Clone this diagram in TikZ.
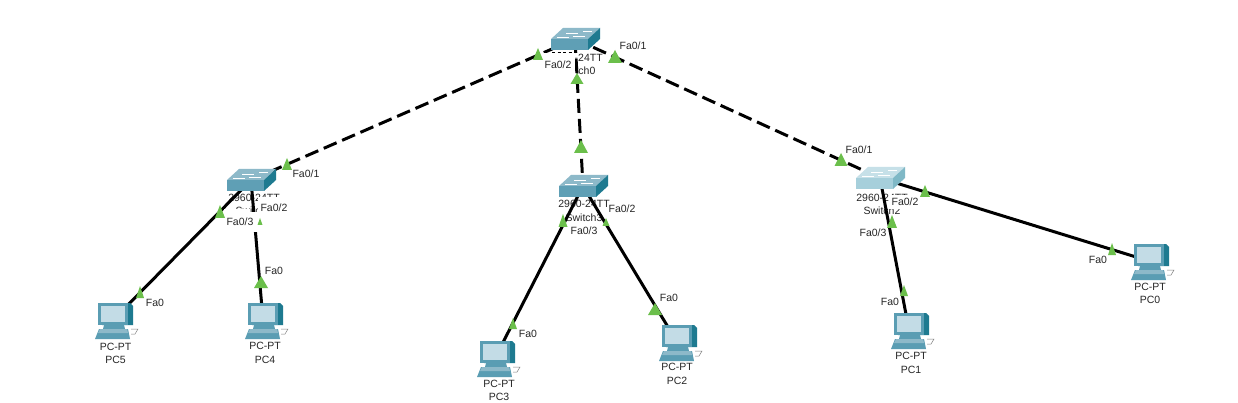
\documentclass[tikz,border=0pt]{standalone}
\usepackage{fontspec}
\setmainfont{Liberation Sans}
\definecolor{swtop}{HTML}{8DB9C9}
\definecolor{swfront}{HTML}{5F9FB5}
\definecolor{swside}{HTML}{1E7A90}
\definecolor{ltop}{HTML}{C6E0E8}
\definecolor{lfront}{HTML}{A6CFDB}
\definecolor{lside}{HTML}{7FB8C6}
\definecolor{pcbody}{HTML}{5A9DB3}
\definecolor{pcscreen}{HTML}{C3DCE6}
\definecolor{pcdark}{HTML}{1E7A90}
\definecolor{linkgreen}{HTML}{6BBF4B}
\tikzset{
  x=1pt,y=-1pt,
  link/.style={draw=black,line width=3pt},
  trunk/.style={link,dash pattern=on 14pt off 6pt},
  devlabel/.style={font=\fontsize{10.5}{13.5}\selectfont,align=center,inner sep=0pt,text=black!85},
  portlabel/.style={font=\fontsize{10.5}{12}\selectfont,inner sep=0pt,text=black!85},
  mask/.style={fill=white,draw=none},
  anchorpt/.style={inner sep=0pt,minimum size=0pt},
}
% triangle: centre x, bottom y, half width, height
\newcommand{\linktri}[4]{\fill[linkgreen] (#1-#3,#2) -- (#1,#2-#4) -- (#1+#3,#2) -- cycle;}
\newcommand{\swicon}[4]{%
  \begin{scope}[shift={(#1)}]
    \fill[#2] (-24,0) -- (-12,-11) -- (25,-11) -- (13,0) -- cycle;
    \fill[#3] (-24,0) -- (13,0) -- (13,11) -- (-24,11) -- cycle;
    \fill[#4] (13,0) -- (25,-11) -- (25,0) -- (13,11) -- cycle;
    \draw[white,line width=.7pt] (-9,-6) -- (3,-6) (8,-8) -- (17,-8) (-18,-2) -- (-6,-2) (-2,-3) -- (10,-3);
  \end{scope}}
\newcommand{\pcicon}[1]{%
  \begin{scope}[shift={(#1)}]
    \fill[pcdark] (-11,-17) -- (17,-17) -- (20,-14) -- (20,5) -- (12,5) -- (-11,5) -- cycle;
    \fill[pcbody] (-15,-17) -- (15,-17) -- (15,5) -- (-15,5) -- cycle;
    \fill[pcscreen] (-12,-14) -- (12,-14) -- (12,2) -- (-12,2) -- cycle;
    \fill[pcbody] (-9,5) -- (11,5) -- (12,9) -- (-10,9) -- cycle;
    \fill[pcbody] (-14,9) -- (15,9) -- (17,19) -- (-18,19) -- cycle;
    \fill[swtop] (-13,9) -- (14,9) -- (15,13) -- (-15,13) -- cycle;
    \draw[black!50,line width=.5pt] (18,9) -- (25,9) -- (22,14) -- (18,14);
  \end{scope}}
\begin{document}
\begin{tikzpicture}
\useasboundingbox (0,0) rectangle (1238,403);
\fill[white] (0,0) rectangle (1238,403);
% device anchors
\node[anchorpt] (sw0) at (575,39) {};
\node[anchorpt] (sw1) at (251,180) {};
\node[anchorpt] (sw2) at (583,186) {};
\node[anchorpt] (sw3) at (880,178) {};
\node[anchorpt] (pc5) at (113,320) {};
\node[anchorpt] (pc4) at (263,320) {};
\node[anchorpt] (pc3) at (495,358) {};
\node[anchorpt] (pc2) at (677,342) {};
\node[anchorpt] (pc1) at (909,330) {};
\node[anchorpt] (pc0) at (1149,261) {};
% device labels
\node[devlabel] (l0) at (577,64.5) {2960-24TT\\Switch0};
\node[devlabel] (l1) at (254,204.5) {2960-24TT\\Switch1};
\node[devlabel] (l2) at (584,211) {2960-24TT\\Switch3};
\node[devlabel] (l3) at (882,204.5) {2960-24TT\\Switch2};
\node[devlabel] (lp5) at (115.5,353.5) {PC-PT\\PC5};
\node[devlabel] (lp4) at (265,353) {PC-PT\\PC4};
\node[devlabel] (lp3) at (499,390.5) {PC-PT\\PC3};
\node[devlabel] (lp2) at (677,374) {PC-PT\\PC2};
\node[devlabel] (lp1) at (911,363) {PC-PT\\PC1};
\node[devlabel] (lp0) at (1150,293.5) {PC-PT\\PC0};
% connectors
\draw[trunk] (sw0.center) -- (sw1.center);
\draw[trunk] (sw0.center) -- (sw2.center);
\draw[trunk] (sw0.center) -- (sw3.center);
\draw[link] (sw1.center) -- (pc5.center);
\draw[link] (sw1.center) -- (pc4.center);
\draw[link] (sw2.center) -- (pc3.center);
\draw[link] (sw2.center) -- (pc2.center);
\draw[link] (sw3.center) -- (pc1.center);
\draw[link] (sw3.center) -- (pc0.center);
% label backgrounds covering lines and names
\fill[mask] (542,53) rectangle (575,78);
\draw[black,dash pattern=on 3pt off 2.5pt,line width=.7pt] (552,52.5) -- (575,52.5);
\fill[mask] (258,197) rectangle (290,216);
\fill[mask] (224,209) rectangle (250,232);
\fill[mask] (250,212) rectangle (262,232);
\fill[mask] (889,195) rectangle (921,209);
\fill[mask] (858,226) rectangle (888,240);
% switches
\swicon{sw0.center}{swtop}{swfront}{swside}
\swicon{sw1.center}{swtop}{swfront}{swside}
\swicon{sw2.center}{swtop}{swfront}{swside}
\swicon{sw3.center}{ltop}{lfront}{lside}
% PCs
\pcicon{pc5.center}
\pcicon{pc4.center}
\pcicon{pc3.center}
\pcicon{pc2.center}
\pcicon{pc1.center}
\pcicon{pc0.center}
% link lights
\linktri{538}{60}{5}{12}
\linktri{615}{63}{7}{13}
\linktri{577}{84}{6.5}{11}
\linktri{581}{153}{7}{13}
\linktri{287}{170}{5}{12}
\linktri{220}{218}{5}{13}
\linktri{260}{225}{2.5}{7}
\linktri{563}{227}{4.5}{13}
\linktri{606}{226}{3.5}{8}
\linktri{841}{166}{6.5}{13}
\linktri{925}{197}{5}{12}
\linktri{892}{228}{5}{13}
\linktri{1112}{255}{4}{12}
\linktri{904}{296}{4}{11}
\linktri{261}{288}{7}{12}
\linktri{140}{298}{4}{12}
\linktri{513}{329}{4}{11}
\linktri{655}{315}{7}{12}
% port labels
\node[portlabel] (p1) at (633,46) {Fa0/1};
\node[portlabel] (p2) at (558,65) {Fa0/2};
\node[portlabel] (p3) at (306,174) {Fa0/1};
\node[portlabel] (p4) at (274,208) {Fa0/2};
\node[portlabel] (p5) at (240,222) {Fa0/3};
\node[portlabel] (p6) at (622,209) {Fa0/2};
\node[portlabel] (p7) at (584,231) {Fa0/3};
\node[portlabel] (p8) at (859,150) {Fa0/1};
\node[portlabel] (p9) at (905,202) {Fa0/2};
\node[portlabel] (p10) at (873,233) {Fa0/3};
\node[portlabel] (p11) at (155,303) {Fa0};
\node[portlabel] (p12) at (274,271) {Fa0};
\node[portlabel] (p13) at (528,334) {Fa0};
\node[portlabel] (p14) at (669,298) {Fa0};
\node[portlabel] (p15) at (890,302) {Fa0};
\node[portlabel] (p16) at (1098,260) {Fa0};
\end{tikzpicture}
\end{document}
